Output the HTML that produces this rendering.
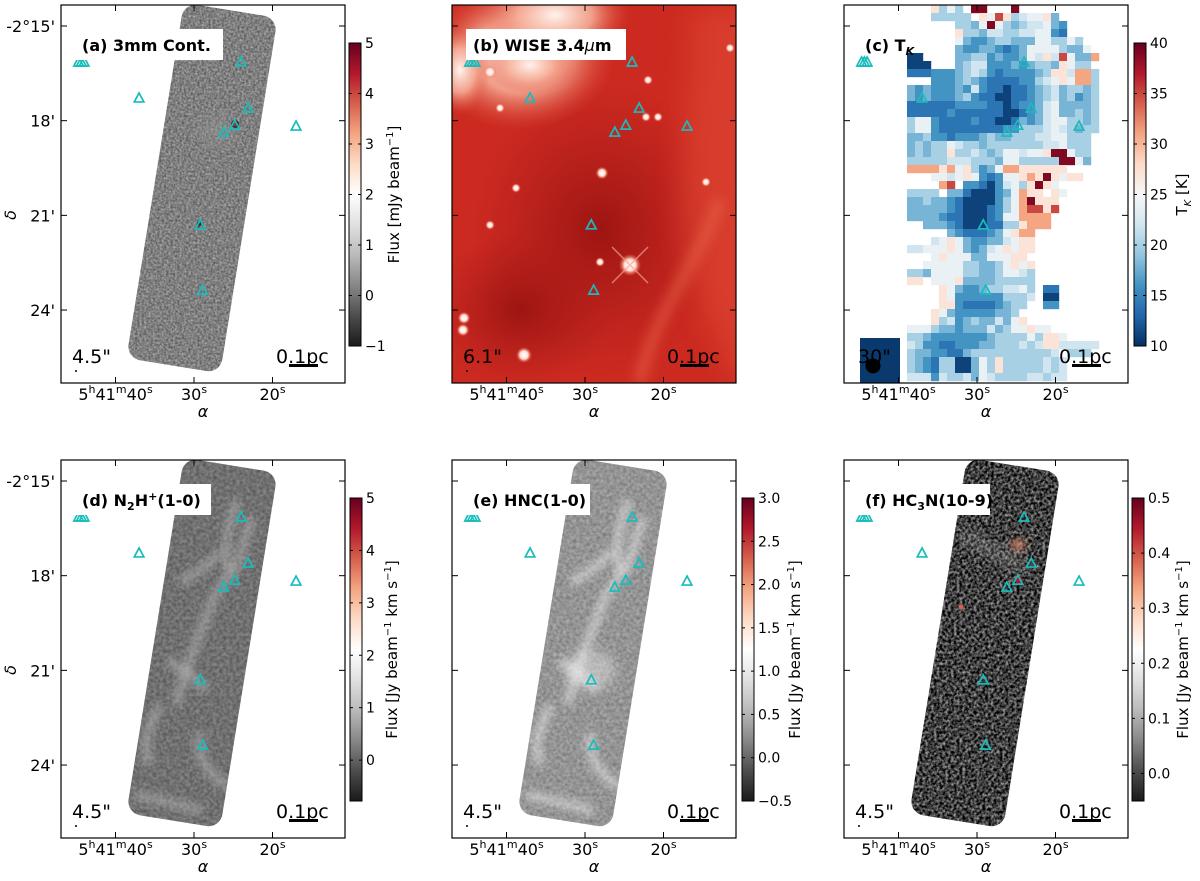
<!DOCTYPE html>
<html><head><meta charset="utf-8">
<style>
html,body{margin:0;padding:0;background:#fff;}
svg{display:block;font-family:"DejaVu Sans","Liberation Sans",sans-serif;}
</style></head>
<body>
<svg id="fig" width="1200" height="881" viewBox="0 0 1200 881" xmlns="http://www.w3.org/2000/svg">
<defs>
  <linearGradient id="cmapRdGy" x1="0" y1="1" x2="0" y2="0">
    <stop offset="0" stop-color="#1a1a1a"/><stop offset="0.1" stop-color="#4d4d4d"/>
    <stop offset="0.2" stop-color="#878787"/><stop offset="0.3" stop-color="#bababa"/>
    <stop offset="0.4" stop-color="#e0e0e0"/><stop offset="0.5" stop-color="#ffffff"/>
    <stop offset="0.6" stop-color="#fddbc7"/><stop offset="0.7" stop-color="#f4a582"/>
    <stop offset="0.8" stop-color="#d6604d"/><stop offset="0.9" stop-color="#b2182b"/>
    <stop offset="1" stop-color="#67001f"/>
  </linearGradient>
  <linearGradient id="cmapRdBu" x1="0" y1="1" x2="0" y2="0">
    <stop offset="0" stop-color="#053061"/><stop offset="0.1" stop-color="#2166ac"/>
    <stop offset="0.2" stop-color="#4393c3"/><stop offset="0.3" stop-color="#92c5de"/>
    <stop offset="0.4" stop-color="#d1e5f0"/><stop offset="0.5" stop-color="#f7f7f7"/>
    <stop offset="0.6" stop-color="#fddbc7"/><stop offset="0.7" stop-color="#f4a582"/>
    <stop offset="0.8" stop-color="#d6604d"/><stop offset="0.9" stop-color="#b2182b"/>
    <stop offset="1" stop-color="#67001f"/>
  </linearGradient>
  <filter id="noiseA" x="0" y="0" width="100%" height="100%" color-interpolation-filters="sRGB">
    <feTurbulence type="fractalNoise" baseFrequency="0.45" numOctaves="2" seed="3"/>
    <feColorMatrix type="matrix" values="0.5 0 0 0 0.25  0.5 0 0 0 0.25  0.5 0 0 0 0.25  0 0 0 0 1"/>
  </filter>
  <filter id="noiseD" x="0" y="0" width="100%" height="100%" color-interpolation-filters="sRGB">
    <feTurbulence type="fractalNoise" baseFrequency="0.3" numOctaves="2" seed="5"/>
    <feColorMatrix type="matrix" values="0.3 0 0 0 0.29  0.3 0 0 0 0.29  0.3 0 0 0 0.29  0 0 0 0 1"/>
  </filter>
  <filter id="noiseE" x="0" y="0" width="100%" height="100%" color-interpolation-filters="sRGB">
    <feTurbulence type="fractalNoise" baseFrequency="0.3" numOctaves="2" seed="7"/>
    <feColorMatrix type="matrix" values="0.3 0 0 0 0.43  0.3 0 0 0 0.43  0.3 0 0 0 0.43  0 0 0 0 1"/>
  </filter>
  <filter id="noiseF" x="0" y="0" width="100%" height="100%" color-interpolation-filters="sRGB">
    <feTurbulence type="fractalNoise" baseFrequency="0.35" numOctaves="2" seed="9"/>
    <feColorMatrix type="matrix" values="1.2 0 0 0 -0.35  1.2 0 0 0 -0.35  1.2 0 0 0 -0.35  0 0 0 0 1"/>
  </filter>
  <filter id="blur3" x="-50%" y="-50%" width="200%" height="200%"><feGaussianBlur stdDeviation="4"/></filter>
  <filter id="blur6" x="-50%" y="-50%" width="200%" height="200%"><feGaussianBlur stdDeviation="6"/></filter>
  <filter id="blur14" x="-50%" y="-50%" width="200%" height="200%"><feGaussianBlur stdDeviation="14"/></filter>
  <radialGradient id="wiseGlow" cx="0.5" cy="0.5" r="0.5">
    <stop offset="0" stop-color="#fff3ee"/><stop offset="0.5" stop-color="#f6b09a" stop-opacity="0.85"/>
    <stop offset="1" stop-color="#e0503a" stop-opacity="0"/>
  </radialGradient>
  <radialGradient id="wiseDark" cx="0.5" cy="0.5" r="0.5">
    <stop offset="0" stop-color="#981210" stop-opacity="0.9"/><stop offset="1" stop-color="#a8191a" stop-opacity="0"/>
  </radialGradient>
  <radialGradient id="starG" cx="0.5" cy="0.5" r="0.5">
    <stop offset="0" stop-color="#ffffff"/><stop offset="0.5" stop-color="#ffe0d6"/>
    <stop offset="1" stop-color="#f06040" stop-opacity="0"/>
  </radialGradient>
</defs>
<g id="root"></g>
</svg>
<script>
// ---------- data ----------
const panelNames = ['a','b','c','d','e','f'];
const panelTitles = ['(a) 3mm Cont.','(b) WISE 3.4','(c) T','(d) N','(e) HNC(1-0)','(f) HC'];
const beamLabels = ['4.5"','6.1"','30"','4.5"','4.5"','4.5"'];
const raTickValues = [40, 30, 20];
const decTickValues = [15, 18, 21, 24];
const decTickLabels = ["-2°15'", "18'", "21'", "24'"];
const triRA  = [44.7, 44.35, 44.0, 37.0, 24.0, 23.1, 24.8, 26.2, 17.0, 29.2, 28.9];
const triDec = [16.14, 16.14, 16.14, 17.28, 16.14, 17.6, 18.14, 18.36, 18.17, 21.3, 23.37];
const cbarA_ticks = [5,4,3,2,1,0,-1];
const cbarC_ticks = [40,35,30,25,20,15,10];
const cbarD_ticks = [5,4,3,2,1,0];
const cbarE_ticks = [3.0,2.5,2.0,1.5,1.0,0.5,0.0,-0.5];
const cbarF_ticks = [0.5,0.4,0.3,0.2,0.1,0.0];
const cbarRanges = {a:[-1,5], c:[10,40], d:[-0.78,5], e:[-0.5,3.0], f:[-0.05,0.5]};
// T_K map: '.' empty; a..f blues, w white, p pink, o orange, r red, R dark red
const tkRows = [
"...pewe.RR...R..........",
"...eeeee.pwrpefwwpd.....",
"......eedwRwedeffwdc....",
"......peedffeeffwwcb....",
"......wdccdeedddwweewe..",
"......dccddcbcdwwwweddw.",
"aa....ddeecdccdwfpfrwddo",
"aaa...deffcccdcdeedpwee.",
"bbbcccdefecbccccdeppfooe",
"...cccdedcbbbbccefwpwooe",
"dcdcccdcfcbbabbcdefdeede",
"dcdcccdecbbaabbcdefdecde",
"bbbbbbccccbbabccdfwdddde",
"bbbbbcbbbbbbaabcdfwddede",
"ewwcbbbbcbbaabdcdfwweede",
"ewwcbbbbbbbbcceeefwfedee",
"ddeccbcccdeddeeeffwweee.",
"dedeewfeedeeeeeeeffweee.",
"dedeepeefedewwfwwpRRwee.",
"eeeeefffeeedwweeeeeRRwd.",
"oooopowpecdwoopppppp....",
"...wwfwpwcbcwwpopRpwpp..",
"....or.ccbacfwepRpw.....",
"eeee.ddbaaacdwopp.pw....",
"ddeddcbaaaacewoRppp.....",
"dddddcbaaabceworrpr.....",
"ddddcbbaaabcwwoooo......",
"..dddcbaaabbeepooo......",
".....dcbbbcdwpoo........",
"...fwpwdccddfwpp........",
"ffwwwpwdcdfwpwpp........",
"...wpwwwddwwwpp.........",
"..wwwwweeddewpwp........",
"eedwwwweeddewwfe........",
"pp.wwwpddddeeeee........",
"....pwdccdeeffwe.bb.....",
"....pwcccccceeef.aa.....",
"....ppcbbbbcdee..cc.....",
"...pwdcccccdde..........",
"...pefcdeddfdwp.........",
"wwweddcdddfdewwpww......",
"eedcccccccdeeeeweppw....",
"feccbbcccddeeefefppfffff",
"eddccbbdeeeeeeeeeef.eee.",
"edcbeeaadwepeeeeefef....",
"edcbeeaadwepeeeeefef....",
"fffcfeefdwfeeeeffeff...."
];
const tkLevels = {a:11,b:14,c:16,d:18,e:20,f:22,w:24,p:27,o:31,r:35,R:39};

// ---------- helpers ----------
const NS='http://www.w3.org/2000/svg';
const root=document.getElementById('root');
function mk(tag, attrs, parent){const e=document.createElementNS(NS,tag);for(const k in attrs)e.setAttribute(k,attrs[k]);(parent||root).appendChild(e);return e;}
const offX=[0,391,783,0,391,783], offY=[0,0,0,455,455,455];
const FX0=61, FX1=345, FY0=5, FY1=383;
function xRA(s){return 194+(30-s)*7.85;}
function yDec(m){return 26+(m-15)*31.56;}
const rdbu=['#053061','#2166ac','#4393c3','#92c5de','#d1e5f0','#f7f7f7','#fddbc7','#f4a582','#d6604d','#b2182b','#67001f'];
function hex(c){return [parseInt(c.slice(1,3),16),parseInt(c.slice(3,5),16),parseInt(c.slice(5,7),16)];}
function tkColor(v){let t=(v-10)/30;t=Math.max(0,Math.min(1,t))*10;const i=Math.min(9,Math.floor(t));const f=t-i;const a=hex(rdbu[i]),b=hex(rdbu[i+1]);return 'rgb('+a.map((x,k)=>Math.round(x+(b[k]-x)*f)).join(',')+')';}

function tilePath(dx,dy){
  return {x:202-47.5+dx,y:188-180+dy,w:95,h:360,t:'rotate(9.2 '+(202+dx)+' '+(188+dy)+')'};
}

// ---------- panels ----------
for(let p=0;p<6;p++){
  const dx=offX[p], dy=offY[p], nm=panelNames[p];
  const g=mk('g',{});
  
  
  const clipId='clip'+nm;
  const cp=mk('clipPath',{id:clipId},g);
  mk('rect',{x:FX0+dx,y:FY0+dy,width:FX1-FX0,height:FY1-FY0},cp);
  const img=mk('g',{'clip-path':'url(#'+clipId+')'},g);
  
  

  if(nm==='b'){
    mk('rect',{x:FX0+dx,y:FY0,width:284,height:378,fill:'#cc2a20'},img);
    mk('ellipse',{cx:600,cy:230,rx:130,ry:150,fill:'url(#wiseDark)'},img);
    mk('ellipse',{cx:520,cy:310,rx:90,ry:80,fill:'url(#wiseDark)'},img);
    mk('path',{d:'M690,10 C700,100 660,200 700,300 L736,383 L760,383 L760,5 Z',fill:'#e04a35',opacity:0.6,filter:'url(#blur14)'},img);
    mk('path',{d:'M640,383 C650,320 700,260 720,200',stroke:'#ee6a50',fill:'none','stroke-width':10,opacity:0.6,filter:'url(#blur6)'},img);
    mk('ellipse',{cx:520,cy:55,rx:95,ry:75,fill:'url(#wiseGlow)'},img);
    mk('ellipse',{cx:530,cy:65,rx:45,ry:30,fill:'url(#wiseGlow)'},img);
    mk('ellipse',{cx:555,cy:15,rx:75,ry:45,fill:'url(#wiseGlow)'},img);
    mk('ellipse',{cx:460,cy:70,rx:30,ry:45,fill:'url(#wiseGlow)'},img);
    const stars=[[630,265,7],[602,173,4],[464,318,4],[463,330,4],[524,355,5],[490,72,4],[648,80,3],[646,117,3],[658,117,3],[500,108,3],[490,225,3],[706,182,3],[730,48,3],[516,188,3],[600,262,3]];
    for(const s of stars){const c=mk('circle',{cx:s[0],cy:s[1],r:s[2]*1.6,fill:'url(#starG)'},img);}
    mk('path',{d:'M612,247 L648,283 M612,283 L648,247',stroke:'#f6a090','stroke-width':1.5,opacity:0.7},img);
  } else if(nm==='c'){
    for(let r=0;r<tkRows.length;r++){
      const row=tkRows[r];
      for(let c=0;c<24;c++){
        const ch=row[c]; if(!ch||ch==='.')continue;
        const cell=mk('rect',{x:907+8*c,y:5+8*r,width:8.2,height:8.2,fill:tkColor(tkLevels[ch])},img);
        
        
      }
    }
    const blk=mk('rect',{x:860,y:338,width:40,height:45,fill:tkColor(10.5)},img);
    
    
    const beam=mk('circle',{cx:873,cy:366,r:7.5,fill:'#000'},img);
    
    
  } else {
    const tp=tilePath(dx,dy);
    const tc=mk('clipPath',{id:'tile'+nm},g);
    mk('rect',{x:tp.x,y:tp.y,width:tp.w,height:tp.h,rx:14,transform:tp.t},tc);
    const tile=mk('g',{'clip-path':'url(#tile'+nm+')'},img);
    const fid={a:'noiseA',d:'noiseD',e:'noiseE',f:'noiseF'}[nm];
    mk('rect',{x:100+dx,y:5+dy,width:200,height:380,filter:'url(#'+fid+')'},tile);
    if(nm==='d'||nm==='e'){
      const col=nm==='d'?'#b8b8b8':'#eeeeee';
      const fil=['M238,45 C228,70 222,95 230,118','M252,62 L238,108 L215,140 L200,178 L186,215 L176,250','M168,205 C185,218 198,224 206,236','M200,278 C196,300 206,318 228,332','M135,340 C160,345 182,350 202,356','M222,95 C210,110 195,118 180,128','M160,250 C150,270 140,290 150,310'];
      for(const d of fil){const f=mk('path',{d:d,transform:'translate('+dx+','+dy+')',stroke:col,'stroke-width':10,fill:'none',opacity:0.5,filter:'url(#blur3)'},tile);}
      if(nm==='e'){mk('ellipse',{cx:200+dx,cy:215+dy,rx:25,ry:20,fill:'#f4f4f4',opacity:0.4,filter:'url(#blur6)'},tile);}
    }
    if(nm==='f'){
      mk('ellipse',{cx:235+dx,cy:90+dy,rx:8,ry:5,fill:'#e08a70',opacity:0.9,filter:'url(#blur3)'},tile);
      mk('circle',{cx:236+dx,cy:125+dy,r:3.5,fill:'#b2182b'},tile);
      mk('circle',{cx:178+dx,cy:152+dy,r:2.5,fill:'#d6604d'},tile);
      mk('path',{d:'M180,80 C200,90 215,100 240,110',transform:'translate('+dx+','+dy+')',stroke:'#bbb','stroke-width':10,fill:'none',opacity:0.4,filter:'url(#blur6)'},tile);
    }
    if(nm==='a'){
      mk('circle',{cx:235,cy:124,r:4,fill:'#222'},tile);
      mk('circle',{cx:235,cy:124,r:2,fill:'#b2182b'},tile);
      mk('circle',{cx:199,cy:224,r:2.5,fill:'#333'},tile);
      mk('ellipse',{cx:218,cy:130,rx:20,ry:16,fill:'#999',opacity:0.35,filter:'url(#blur6)'},tile);
    }
  }

  const fr=mk('rect',{x:FX0+dx,y:FY0+dy,width:FX1-FX0,height:FY1-FY0,fill:'none',stroke:'#000','stroke-width':1.2},g);
  
  
  for(const v of raTickValues){
    const x=xRA(v)+dx;
    mk('line',{x1:x,y1:FY1+dy,x2:x,y2:FY1+dy-6,stroke:'#000'},g);
    mk('line',{x1:x,y1:FY0+dy,x2:x,y2:FY0+dy+6,stroke:'#000'},g);
  }
  decTickValues.forEach((v,i)=>{
    const y=yDec(v)+dy;
    mk('line',{x1:FX0+dx,y1:y,x2:FX0+dx+6,y2:y,stroke:'#000'},g);
    mk('line',{x1:FX1+dx,y1:y,x2:FX1+dx-6,y2:y,stroke:'#000'},g);
    if(p===0||p===3){
      const t=mk('text',{x:55,y:y+6,'text-anchor':'end','font-size':16},g);
      t.textContent=decTickLabels[i];
      
      
    }
  });
  const ly=400+dy;
  const t40=mk('text',{x:xRA(40)+dx,y:ly,'text-anchor':'middle','font-size':16},g);
  t40.innerHTML='5<tspan dy="-7" font-size="11">h</tspan><tspan dy="7">41</tspan><tspan dy="-7" font-size="11">m</tspan><tspan dy="7">40</tspan><tspan dy="-7" font-size="11">s</tspan>';
  
  
  for(const v of [30,20]){
    const t=mk('text',{x:xRA(v)+dx,y:ly,'text-anchor':'middle','font-size':16},g);
    t.innerHTML=v+'<tspan dy="-7" font-size="11">s</tspan>';
    
    
  }
  const al=mk('text',{x:203+dx,y:417+dy,'text-anchor':'middle','font-size':16,'font-style':'italic'},g);
  al.textContent='α';
  
  
  if(p===0||p===3){
    const dl=mk('text',{x:16,y:215+dy,'text-anchor':'middle','font-size':16,'font-style':'italic',transform:'rotate(-90 16 '+(215+dy)+')'},g);
    dl.textContent='δ';
    
    
  }
  for(let i=0;i<triRA.length;i++){
    const x=xRA(triRA[i])+dx, y=yDec(triDec[i])+dy;
    const tri=mk('path',{d:'M'+x+','+(y-5)+' L'+(x+4.8)+','+(y+4)+' L'+(x-4.8)+','+(y+4)+' Z',fill:'none',stroke:'#18bcbc','stroke-width':1.7},g);
    
    
  }
  const bw=[148,160,0,136,124,132][p];
  if(bw){mk('rect',{x:75+dx,y:29+dy,width:bw,height:31,fill:'#fff'},g);}
  const tt=mk('text',{x:82+dx,y:51+dy,'font-size':16,'font-weight':'bold'},g);
  if(nm==='b') tt.innerHTML='(b) WISE 3.4<tspan font-style="italic" font-weight="normal">μ</tspan>m';
  else if(nm==='c') tt.innerHTML='(c) T<tspan font-size="11" dy="4" font-style="italic">K</tspan>';
  else if(nm==='d') tt.innerHTML='(d) N<tspan font-size="11" dy="4">2</tspan><tspan dy="-4">H</tspan><tspan font-size="11" dy="-6">+</tspan><tspan dy="6">(1-0)</tspan>';
  else if(nm==='f') tt.innerHTML='(f) HC<tspan font-size="11" dy="4">3</tspan><tspan dy="-4">N(10-9)</tspan>';
  else tt.textContent=panelTitles[p];
  
  
  const bl=mk('text',{x:(nm==='c'?858:72)+dx-(nm==='c'?783:0),y:363+dy,'font-size':19},g);
  bl.textContent=beamLabels[p];
  
  
  if(nm!=='c'){mk('circle',{cx:76+dx,cy:371+dy,r:1,fill:'#000'},g);}
  const sl=mk('text',{x:276+dx,y:363+dy,'font-size':19},g);
  sl.textContent='0.1pc';
  
  
  const sb=mk('rect',{x:289+dx,y:364+dy,width:29,height:3,fill:'#000'},g);
  
  
}

// ---------- colorbars ----------
function colorbar(nm, x, y0, y1, grad, ticks, range, fmt, label, lx){
  const g=mk('g',{});
  
  
  mk('rect',{x:x,y:y0,width:12,height:y1-y0,fill:'url(#'+grad+')',stroke:'#000','stroke-width':1},g);
  const sc=v=>y1-(v-range[0])/(range[1]-range[0])*(y1-y0);
  for(const v of ticks){
    const y=sc(v);
    mk('line',{x1:x,y1:y,x2:x+3,y2:y,stroke:'#000'},g);
    mk('line',{x1:x+12,y1:y,x2:x+9,y2:y,stroke:'#000'},g);
    const t=mk('text',{x:x+16,y:y+5,'font-size':14},g);
    t.textContent=fmt(v);
    
    
  }
  const cy=(y0+y1)/2;
  const lt=mk('text',{x:lx,y:cy,'text-anchor':'middle','font-size':15,transform:'rotate(-90 '+lx+' '+cy+')'},g);
  lt.innerHTML=label;
  
  
}
const fi=v=>(v<0?'−':'')+Math.abs(v);
const f1=v=>(v<0?'−':'')+Math.abs(v).toFixed(1);
const jyLab='Flux [Jy beam<tspan dy="-6" font-size="10">−1</tspan><tspan dy="6"> km s</tspan><tspan dy="-6" font-size="10">−1</tspan><tspan dy="6">]</tspan>';
colorbar('a',349,43,346,'cmapRdGy',cbarA_ticks,cbarRanges.a,fi,'Flux [mJy beam<tspan dy="-6" font-size="10">−1</tspan><tspan dy="6">]</tspan>',399);
colorbar('c',1134,43,346,'cmapRdBu',cbarC_ticks,cbarRanges.c,fi,'T<tspan font-size="10" dy="4" font-style="italic">K</tspan><tspan dy="-4"> [K]</tspan>',1187);
colorbar('d',350,498,801,'cmapRdGy',cbarD_ticks,cbarRanges.d,fi,jyLab,397);
colorbar('e',742,498,801,'cmapRdGy',cbarE_ticks,cbarRanges.e,f1,jyLab,800);
colorbar('f',1132,498,801,'cmapRdGy',cbarF_ticks,cbarRanges.f,f1,jyLab,1188);
</script>
</body></html>
